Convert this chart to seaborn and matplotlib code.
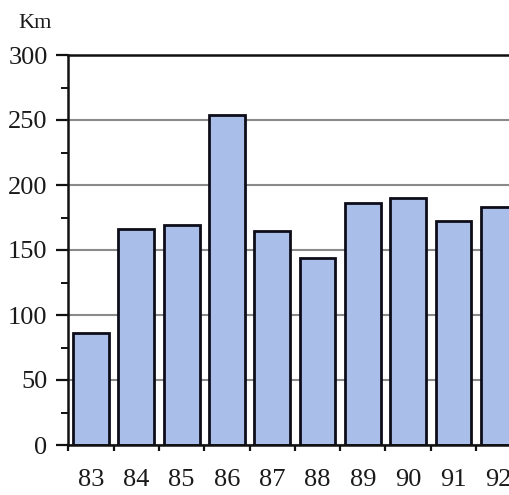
import matplotlib
matplotlib.use("Agg")
import matplotlib.pyplot as plt
import seaborn as sns
import pandas as pd
from matplotlib.ticker import MultipleLocator, FixedLocator

years = ["83", "84", "85", "86", "87", "88", "89", "90", "91", "92"]
km = [86, 166, 169, 254, 165, 144, 186, 190, 172, 183]
y_ticks = [0, 50, 100, 150, 200, 250, 300]

df = pd.DataFrame({"year": years, "km": km})

sns.set_style("white")
plt.rcParams["font.family"] = ["Liberation Serif", "DejaVu Serif"]

fig = plt.figure(figsize=(5.10, 4.95), dpi=100)
fig.patch.set_facecolor("white")
ax = fig.add_axes([68.4 / 510, 50 / 495, 453 / 510, 390 / 495])

sns.barplot(data=df, x="year", y="km", ax=ax, color="#a9bfea",
            saturation=1, edgecolor="#0d0d1a", linewidth=2.0, width=0.79)

ax.set_xlim(-0.5, 9.5)
ax.set_ylim(0, 300)
ax.set_axisbelow(True)
ax.yaxis.set_major_locator(FixedLocator(y_ticks))
ax.yaxis.set_minor_locator(MultipleLocator(25))
ax.grid(axis="y", which="major", color="#8a8a8a", linewidth=1.5)
ax.grid(axis="x", visible=False)

ax.set_xlabel("")
ax.set_ylabel("")

ax.xaxis.set_minor_locator(FixedLocator([i - 0.5 for i in range(len(years) + 1)]))
ax.tick_params(axis="x", which="major", length=0, pad=17, labelsize=19,
               labelcolor="#1a1a1a")
ax.tick_params(axis="x", which="minor", length=4, width=1.6, direction="out",
               color="#111111", bottom=True)
ax.tick_params(axis="y", which="major", length=9, width=1.6, direction="out",
               pad=6, labelsize=19, color="#111111", left=True,
               labelcolor="#1a1a1a")
ax.tick_params(axis="y", which="minor", length=5, width=1.4, direction="out",
               color="#111111", left=True)

for s in ["left", "bottom", "top"]:
    ax.spines[s].set_visible(True)
    ax.spines[s].set_color("#111111")
    ax.spines[s].set_linewidth(1.8)
ax.spines["right"].set_visible(False)

fig.text(35 / 510, 1 - 23 / 495, "Km", ha="center", va="center", fontsize=16,
         color="#1a1a1a")

fig.savefig("out.png", dpi=100, facecolor="white")
